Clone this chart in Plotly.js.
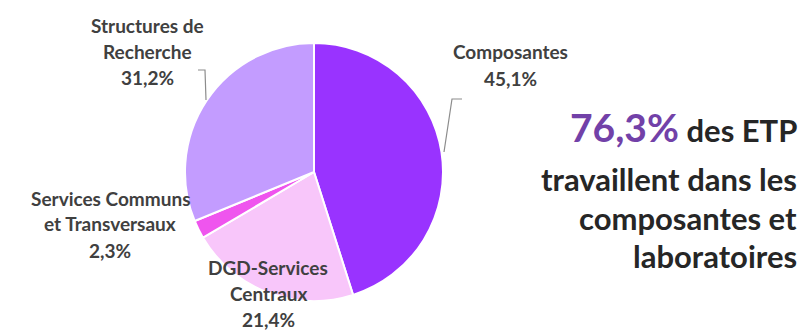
<!DOCTYPE html>
<html>
<head>
<meta charset="utf-8">
<script src="https://cdn.plot.ly/plotly-3.0.1.min.js"></script>
<style>html,body{margin:0;padding:0;background:#fff}#chart{width:805px;height:332px}</style>
</head>
<body>
<div id="chart"></div>
<script>
// ---- data ----
const categories = ['Composantes', 'DGD-Services Centraux', 'Services Communs et Transversaux', 'Structures de Recherche'];
const values = [45.1, 21.4, 2.3, 31.2];
const colors = ['#9933FF', '#F8C6FA', '#EF55EE', '#C39CFF'];
const highlightValue = '76,3%';
const highlightLines = ['des ETP', 'travaillent dans les', 'composantes et', 'laboratoires'];

// ---- layout helpers ----
const W = 805, H = 332;
const px = x => x / W;
const py = y => 1 - y / H;
const fmt = v => v.toFixed(1).replace('.', ',') + '%';

// label line breaks and positions (pixel centres)
const labelLines = {
  'Composantes': [['Composantes'], 510, 52],
  'DGD-Services Centraux': [['DGD-Services', 'Centraux'], 268, 267],
  'Services Communs et Transversaux': [['Services Communs', 'et Transversaux'], 110, 198],
  'Structures de Recherche': [['Structures de', 'Recherche'], 147, 25]
};
const lineGap = 26;
const labelFont = {family: 'Lato, "Open Sans", sans-serif', size: 19, color: '#404040'};

const annotations = [];
categories.forEach((c, i) => {
  const [lines, cx, cy] = labelLines[c];
  const all = lines.concat([fmt(values[i])]);
  all.forEach((t, k) => {
    annotations.push({
      xref: 'paper', yref: 'paper', x: px(cx), y: py(cy + k * lineGap),
      xanchor: 'center', yanchor: 'middle', showarrow: false,
      text: '<b>' + t + '</b>', font: labelFont
    });
  });
});

// right-hand statement
const rightX = px(799);
const bigFont = {family: 'Lato, "Open Sans", sans-serif', size: 31, color: '#262626'};
annotations.push({
  xref: 'paper', yref: 'paper', x: rightX, y: py(127), xanchor: 'right', yanchor: 'middle',
  showarrow: false,
  text: '<b><span style="font-size:39px;color:#7241A8">' + highlightValue + '</span> ' + highlightLines[0] + '</b>',
  font: bigFont
});
const lineY = [179, 218, 256];
highlightLines.slice(1).forEach((t, k) => {
  annotations.push({
    xref: 'paper', yref: 'paper', x: rightX, y: py(lineY[k]), xanchor: 'right', yanchor: 'middle',
    showarrow: false, text: '<b>' + t + '</b>', font: bigFont
  });
});

// leader lines
const lineStyle = {color: '#8C8C8C', width: 1.2};
const shapes = [
  {type: 'path', xref: 'paper', yref: 'paper',
   path: `M ${px(198)} ${py(70)} L ${px(205)} ${py(70)} L ${px(206)} ${py(100)}`, line: lineStyle},
  {type: 'path', xref: 'paper', yref: 'paper',
   path: `M ${px(462)} ${py(99)} L ${px(452)} ${py(99)} L ${px(444)} ${py(152)}`, line: lineStyle}
];

const cx = 314, cy = 172, r = 129;
const trace = {
  type: 'pie',
  labels: categories,
  values: values,
  sort: false,
  direction: 'clockwise',
  rotation: 0,
  textinfo: 'none',
  hoverinfo: 'label+percent',
  marker: {colors: colors, line: {color: '#FFFFFF', width: 2}},
  domain: {x: [px(cx - r), px(cx + r)], y: [py(cy + r), py(cy - r)]},
  showlegend: false
};

const layout = {
  width: W, height: H,
  margin: {l: 0, r: 0, t: 0, b: 0},
  paper_bgcolor: '#FFFFFF',
  showlegend: false,
  annotations: annotations,
  shapes: shapes
};

Plotly.newPlot('chart', [trace], layout, {staticPlot: true, displayModeBar: false});
</script>
</body>
</html>
